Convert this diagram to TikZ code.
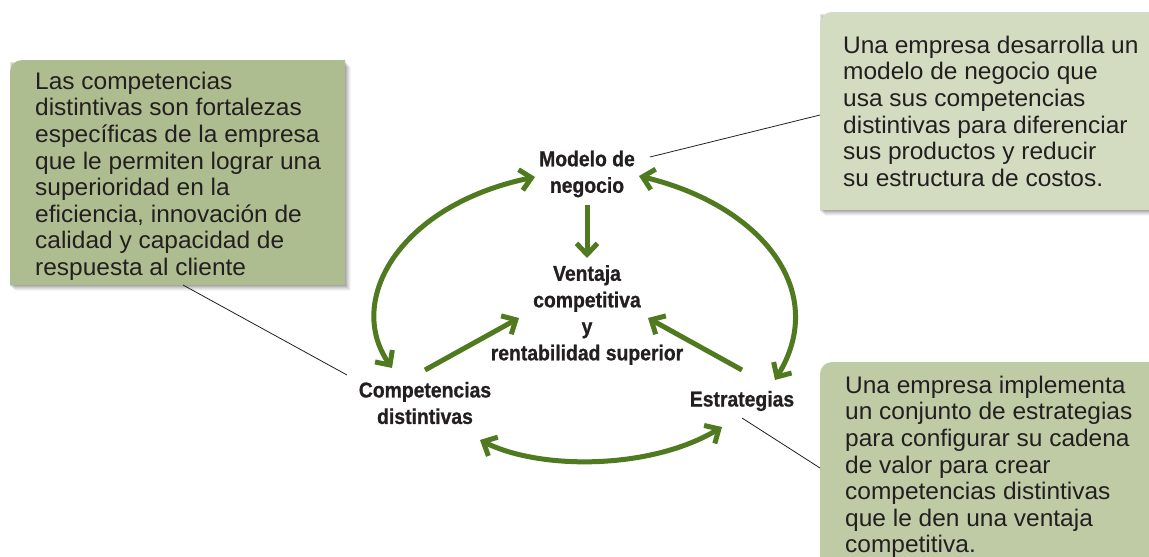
\documentclass[tikz,border=0pt]{standalone}
\usepackage{fontspec}
\setmainfont[FakeStretch=1.02]{Liberation Sans}
\newfontfamily\condfam[FakeStretch=0.9,FakeBold=0.8]{Liberation Sans}
\usetikzlibrary{arrows.meta}
\definecolor{boxA}{RGB}{174,189,143}
\definecolor{boxB}{RGB}{211,219,192}
\definecolor{boxC}{RGB}{190,203,165}
\definecolor{agreen}{RGB}{80,122,32}
\definecolor{ink}{RGB}{35,31,32}
\newcommand\softshadow[4]{%
  \foreach \d/\o in {1/0.10,2/0.09,3/0.08,4/0.06,5/0.05,6/0.035}{%
    \fill[black,opacity=\o] (#1+\d-1,#2+\d+1) rectangle (#3+\d,#4+\d);}}
\begin{document}
\begin{tikzpicture}[x=1pt,y=-1pt,
  body/.style={inner sep=0pt, anchor=north west, align=left, text=ink,
    font=\fontsize{24}{26.6}\selectfont},
  lab/.style={inner sep=0pt, align=center, text=ink,
    font=\condfam\bfseries\fontsize{21.5}{26.5}\selectfont},
  gtip/.tip={Straight Barb[sharp,length=11pt,width=21pt]},
  garrow/.style={draw=agreen, line width=5pt, -{gtip}},
  gboth/.style={draw=agreen, line width=5pt, {gtip}-{gtip}},
  pointer/.style={draw=ink, line width=0.8pt},
]
\useasboundingbox (0,0) rectangle (1149,557);

% boxes with shadows
\softshadow{10}{60}{345}{285}
\fill[boxA] (10,285) [rounded corners=12pt]-- (10,60) [sharp corners]-- (345,60) -- (345,285) -- cycle;
\softshadow{820}{12}{1149}{210}
\fill[boxB] (820,210) [rounded corners=12pt]-- (820,12) [sharp corners]-- (1149,12) -- (1149,210) -- cycle;
\fill[boxC] (820,557) [rounded corners=12pt]-- (820,362) [sharp corners]-- (1149,362) -- (1149,557) -- cycle;

\coordinate (lboxtail) at (183,285);
\coordinate (rboxtail) at (820,115);
\coordinate (bboxtail) at (820,468);

% box texts
\node[body] (ltext) at (35,70.4) {\strut Las competencias\\distintivas son fortalezas\\específicas de la empresa\\que le permiten lograr una\\superioridad en la\\eficiencia, innovación de\\calidad y capacidad de\\respuesta al cliente};
\node[body] (rtext) at (843,34.4) {\strut Una empresa desarrolla un\\modelo de negocio que\\usa sus competencias\\distintivas para diferenciar\\sus productos y reducir\\su estructura de costos.};
\node[body] (btext) at (845,374.4) {\strut Una empresa implementa\\un conjunto de estrategias\\para configurar su cadena\\de valor para crear\\competencias distintivas\\que le den una ventaja\\competitiva.};

% labels
\node[lab] (modelo) at (587,174) {Modelo de\\negocio};
\node[lab] (ventaja) at (587,315) {Ventaja\\competitiva\\y\\rentabilidad superior};
\node[lab] (comp) at (425,403) {Competencias\\distintivas};
\node[lab] (estr) at (742,401) {Estrategias};

% straight arrows
\draw[garrow] ([shift={(0,31)}]modelo.center) -- ([shift={(0,-57)}]ventaja.center);
\draw[garrow] ([shift={(0,-33)}]comp.center) -- ([shift={(-68,3)}]ventaja.center);
\draw[garrow] ([shift={(0,-31)}]estr.center) -- ([shift={(61,3)}]ventaja.center);

% curved arrows
\draw[gboth] ([shift={(-52,3)}]modelo.center) .. controls (400,205) and (345,300) .. ([shift={(-33,-35)}]comp.center);
\draw[gboth] ([shift={(52,2)}]modelo.center) .. controls (760,205) and (830,290) .. ([shift={(33,-21)}]estr.center);
\draw[gboth] ([shift={(55,37)}]comp.center) .. controls (540,470) and (650,470) .. ([shift={(-20,26)}]estr.center);

% pointer lines
\draw[pointer] (lboxtail) -- ([shift={(-78,-28)}]comp.center);
\draw[pointer] ([shift={(63,-17)}]modelo.center) -- (rboxtail);
\draw[pointer] ([shift={(0,17)}]estr.center) -- (bboxtail);
\end{tikzpicture}
\end{document}
